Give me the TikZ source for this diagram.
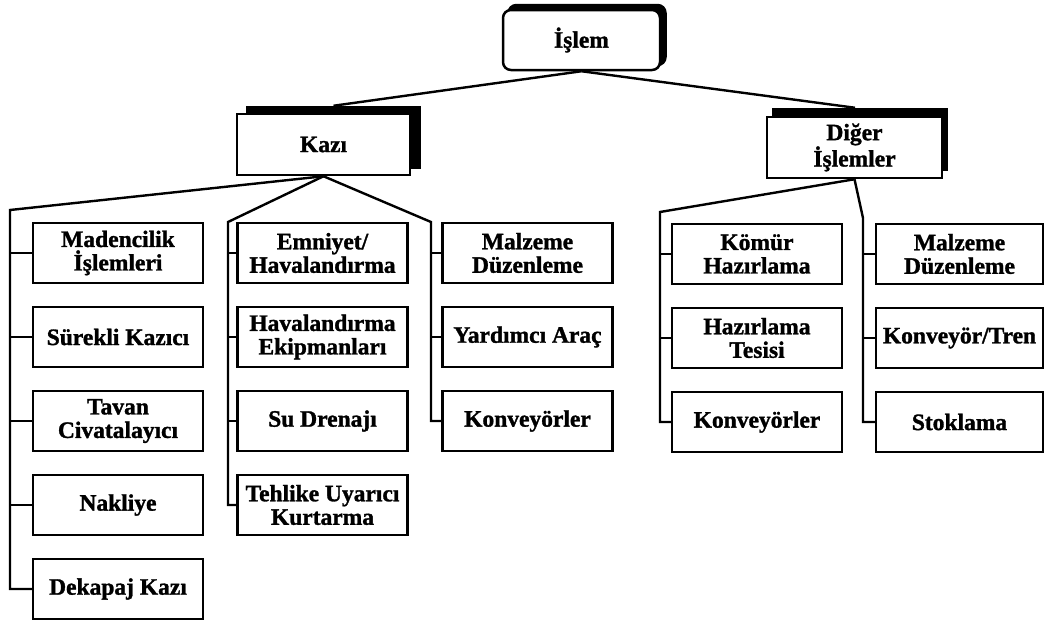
\documentclass[tikz,border=0pt]{standalone}
\usepackage{fontspec}
\setmainfont{Liberation Serif}[BoldFeatures={FakeBold=1.3}]
\usetikzlibrary{calc}
\begin{document}
\begin{tikzpicture}[x=1pt,y=-1pt,line width=2.5pt,
  box/.style={draw,fill=white,minimum width=170pt,minimum height=60pt,inner sep=1pt,align=center,
    font=\fontsize{23.5}{23.5}\selectfont\bfseries},
  shadowbox/.style={draw,fill=black,inner sep=0pt},
  link/.style={draw,line width=2.4pt}]
\useasboundingbox (0,0) rectangle (1045,621);
% top
\node[shadowbox,rounded corners=8pt,minimum width=157pt,minimum height=60pt] (islems) at (587,35) {};
\node[box,rounded corners=8pt,minimum width=157pt,minimum height=60pt] (islem) at (581.5,40) {İşlem};
\node[shadowbox,minimum width=173pt,minimum height=61pt] (kazis) at (333.5,137.5) {};
\node[box,minimum width=173pt,minimum height=61pt] (kazi) at (323.5,144.5) {Kazı};
\node[shadowbox,minimum width=174pt,minimum height=61pt] (digers) at (860,139.5) {};
\node[box,minimum width=175pt,minimum height=61pt] (diger) at (854.5,147.5) {Diğer\\İşlemler};
% column 1
\node[box] (c1a) at (118,253) {Madencilik\\İşlemleri};
\node[box] (c1b) at (118,337) {Sürekli Kazıcı};
\node[box] (c1c) at (118,421) {Tavan\\Civatalayıcı};
\node[box] (c1d) at (118,505) {Nakliye};
\node[box] (c1e) at (118,589) {Dekapaj Kazı};
% column 2
\node[box] (c2a) at (322.5,253) {Emniyet/\\Havalandırma};
\node[box] (c2b) at (322.5,337) {Havalandırma\\Ekipmanları};
\node[box] (c2c) at (322.5,421) {Su Drenajı};
\node[box] (c2d) at (322.5,505) {Tehlike Uyarıcı\\Kurtarma};
% column 3
\node[box] (c3a) at (527.5,253) {Malzeme\\Düzenleme};
\node[box] (c3b) at (527.5,337) {Yardımcı Araç};
\node[box] (c3c) at (527.5,421) {Konveyörler};
% column 4
\node[box] (c4a) at (757,254) {Kömür\\Hazırlama};
\node[box] (c4b) at (757,338) {Hazırlama\\Tesisi};
\node[box] (c4c) at (757,422) {Konveyörler};
% column 5
\node[box,minimum width=167pt] (c5a) at (959.5,254) {Malzeme\\Düzenleme};
\node[box,minimum width=167pt] (c5b) at (959.5,338) {Konveyör/Tren};
\node[box,minimum width=167pt] (c5c) at (959.5,422) {Stoklama};
% connectors top
\draw[link] (islem.south) -- (kazis.north);
\draw[link] (islem.south) -- ($(digers.north)+(-5,0)$);
% trunks
\coordinate (t1) at (10,210);
\coordinate (t2) at (228,222);
\coordinate (t3) at (431,222);
\coordinate (t4) at (660,212);
\coordinate (t5) at (863,218);
\draw[link] (kazi.south) -- (t1) |- (c1e.west);
\draw[link] (kazi.south) -- (t2) |- (c2d.west);
\draw[link] (kazi.south) -- (t3) |- (c3c.west);
\draw[link] (diger.south) -- (t4) |- (c4c.west);
\draw[link] (diger.south) -- (t5) |- (c5c.west);
\foreach \n in {c1a,c1b,c1c,c1d} \draw[link] (t1 |- \n.west) -- (\n.west);
\foreach \n in {c2a,c2b,c2c} \draw[link] (t2 |- \n.west) -- (\n.west);
\foreach \n in {c3a,c3b} \draw[link] (t3 |- \n.west) -- (\n.west);
\foreach \n in {c4a,c4b} \draw[link] (t4 |- \n.west) -- (\n.west);
\foreach \n in {c5a,c5b} \draw[link] (t5 |- \n.west) -- (\n.west);
\end{tikzpicture}
\end{document}
